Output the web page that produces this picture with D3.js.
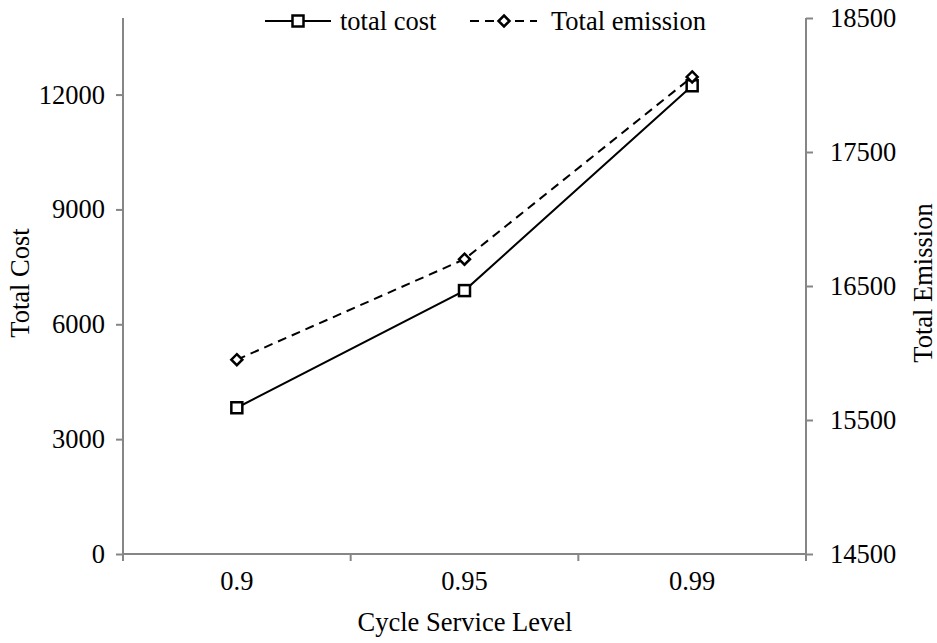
<!DOCTYPE html>
<html><head><meta charset="utf-8">
<script src="https://cdn.jsdelivr.net/npm/d3@7"></script>
<style>body{margin:0;background:#fff}svg{display:block}</style>
</head><body>
<svg id="c" width="937" height="643"></svg>
<script>
const categories = ["0.9", "0.95", "0.99"];
const totalCost = [3820, 6880, 12230];
const totalEmission = [15950, 16700, 18060];
const costTicks = [0, 3000, 6000, 9000, 12000];
const emissionTicks = [14500, 15500, 16500, 17500, 18500];

const FONT = "'Liberation Serif', 'Times New Roman', Times, serif";
const svg = d3.select("#c");
const L = 123, R = 806, T = 18, B = 554;
const x = d3.scaleBand().domain(categories).range([L, R]).padding(0);
const yL = d3.scaleLinear().domain([0, 14000]).range([B, T]);
const yR = d3.scaleLinear().domain([14500, 18500]).range([B, T]);
const axisColor = "#868686";
const fs = "26.5px";
const styleText = sel => sel.style("font-family", FONT).style("font-size", fs).style("fill", "#000");

// x axis
const gx = svg.append("g").attr("transform", `translate(0,${B})`)
  .call(d3.axisBottom(x).tickSize(0).tickPadding(17));
gx.select(".domain").attr("stroke", axisColor).attr("stroke-width", 2).attr("d", `M${L},0H${R}`);
styleText(gx.selectAll("text"));
const bounds = categories.map(c => x(c)).concat([R]);
gx.selectAll("line.bt").data(bounds).enter().append("line").attr("class", "bt")
  .attr("x1", d => d).attr("x2", d => d).attr("y1", 0).attr("y2", 7)
  .attr("stroke", axisColor).attr("stroke-width", 2);

// left axis
const gl = svg.append("g").attr("transform", `translate(${L},0)`)
  .call(d3.axisLeft(yL).tickValues(costTicks).tickFormat(d3.format("d")).tickSize(7).tickPadding(11));
gl.select(".domain").attr("stroke", axisColor).attr("stroke-width", 2).attr("d", `M0,${B}V${T}`);
gl.selectAll(".tick line").attr("stroke", axisColor).attr("stroke-width", 2);
styleText(gl.selectAll("text"));

// right axis
const gr = svg.append("g").attr("transform", `translate(${R},0)`)
  .call(d3.axisRight(yR).tickValues(emissionTicks).tickFormat(d3.format("d")).tickSize(7).tickPadding(17));
gr.select(".domain").attr("stroke", axisColor).attr("stroke-width", 2).attr("d", `M0,${B}V${T}`);
gr.selectAll(".tick line").attr("stroke", axisColor).attr("stroke-width", 2);
styleText(gr.selectAll("text"));

// axis titles
styleText(svg.append("text").attr("x", 465).attr("y", 631).attr("text-anchor", "middle")
  .text("Cycle Service Level"));
styleText(svg.append("text").attr("transform", `translate(29,283) rotate(-90)`).attr("text-anchor", "middle")
  .text("Total Cost"));
styleText(svg.append("text").attr("transform", `translate(932,283) rotate(-90)`).attr("text-anchor", "middle")
  .text("Total Emission"));

const cx = c => x(c) + x.bandwidth() / 2;

// emission line
svg.append("path").datum(totalEmission.map((v, i) => [cx(categories[i]), yR(v)]))
  .attr("d", d3.line()).attr("fill", "none").attr("stroke", "#000").attr("stroke-width", 2)
  .attr("stroke-dasharray", "9,6");
// cost line
svg.append("path").datum(totalCost.map((v, i) => [cx(categories[i]), yL(v)]))
  .attr("d", d3.line()).attr("fill", "none").attr("stroke", "#000").attr("stroke-width", 2);

function square(g, px, py) {
  g.append("rect").attr("x", px - 5.5).attr("y", py - 5.5).attr("width", 11).attr("height", 11)
    .attr("fill", "#fff").attr("stroke", "#000").attr("stroke-width", 2.5);
}
function diamond(g, px, py) {
  g.append("path").attr("d", `M${px},${py - 5.5}L${px + 5.5},${py}L${px},${py + 5.5}L${px - 5.5},${py}Z`)
    .attr("fill", "#fff").attr("stroke", "#000").attr("stroke-width", 2.5);
}
totalCost.forEach((v, i) => square(svg, cx(categories[i]), yL(v)));
totalEmission.forEach((v, i) => diamond(svg, cx(categories[i]), yR(v)));

// legend
const ly = 21;
svg.append("line").attr("x1", 265).attr("x2", 331).attr("y1", ly).attr("y2", ly).attr("stroke", "#000").attr("stroke-width", 2);
square(svg, 298, ly);
styleText(svg.append("text").attr("x", 340).attr("y", ly).attr("dy", "0.33em").text("total cost"));
svg.append("line").attr("x1", 470).attr("x2", 537).attr("y1", ly).attr("y2", ly).attr("stroke", "#000").attr("stroke-width", 2).attr("stroke-dasharray", "9,6");
diamond(svg, 504, ly);
styleText(svg.append("text").attr("x", 551).attr("y", ly).attr("dy", "0.33em").text("Total emission"));
</script>
</body></html>
